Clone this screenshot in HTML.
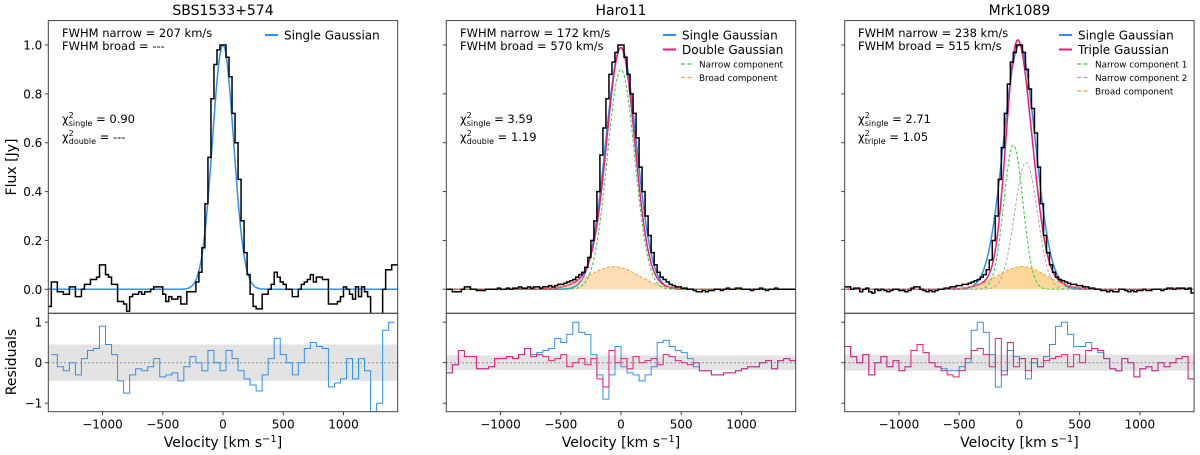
<!DOCTYPE html>
<html><head><meta charset="utf-8">
<style>
html,body{margin:0;padding:0;background:#fff;}
svg{display:block;font-family:"DejaVu Sans","Liberation Sans",sans-serif;}
</style></head>
<body>
<svg id="chart" width="1200" height="455" viewBox="0 0 1200 455" xmlns="http://www.w3.org/2000/svg"></svg>
<script>
// ---------- data ----------
// flux spectra: 25 km/s channels starting at -1450 km/s
const fluxBinStart = -1450;
const fluxBinWidth = 25;
// residuals: 50 km/s bins
const resBinStart = -1450;
const resBinStartSBS = -1425;
const resBinWidth = 50;
const xTicks = [-1000, -500, 0, 500, 1000];
const xTickLabels = ["\u22121000", "\u2212500", "0", "500", "1000"];
const fluxTicks = [0, 0.2, 0.4, 0.6, 0.8, 1.0];
const fluxTickLabels = ["0.0", "0.2", "0.4", "0.6", "0.8", "1.0"];
const resTicks = [-1, 0, 1];
const resTickLabels = ["\u22121", "0", "1"];
const panelTitles = ["SBS1533+574", "Haro11", "Mrk1089"];

const fluxSBS = [
 -0.07,0.03,0.03,-0.01, -0.01,-0.02,-0.02,0.01, 0.01,-0.03,-0.03,0.0, 0.02,0.02,0.04,0.04,
 0.05,0.10,0.10,0.06, 0.05,0.02,0.02,-0.05, -0.05,-0.06,-0.09,-0.03, -0.02,-0.02,-0.01,-0.02,
 -0.01,-0.01,0.0,0.01, 0.01,0.01,-0.02,-0.05, -0.03,-0.04,-0.04,-0.03, -0.06,-0.06,-0.01,-0.01,
 -0.01,0.03,0.07,0.17, 0.35,0.54,0.78,0.92, 0.98,1.0,1.0,0.95, 0.87,0.72,0.6,0.45,
 0.28,0.15,0.06,-0.02, -0.07,-0.08,-0.08,-0.02, -0.02,0.0,0.02,0.07, 0.05,0.03,0.02,0.0,
 0.0,-0.03,-0.03,0.0, 0.02,0.03,0.04,0.06, 0.03,0.05,0.05,0.04, 0.04,-0.06,-0.06,-0.06,
 -0.05,-0.03,0.01,0.0, -0.02,-0.04,0.01,-0.03, 0.01,-0.01,-0.03,-0.12, -0.12,-0.10,-0.10,0.0,
 0.08,0.08,0.10,0.10];
const fluxHaro = [
 0.0,0.0,-0.01,-0.01, -0.01,0.0,0.01,0.01, 0.0,0.0,-0.005,-0.005, -0.005,0.0,0.0,0.0,
 0.0,0.005,0.0,0.0, 0.005,0.0,0.005,0.005, 0.01,0.005,0.005,0.01, 0.005,0.01,0.01,0.005,
 0.01,0.01,0.015,0.01, 0.015,0.02,0.02,0.025, 0.03,0.035,0.04,0.05, 0.06,0.07,0.09,0.13,
 0.2,0.28,0.4,0.55, 0.66,0.78,0.88,0.93, 0.97,1.0,1.0,0.95, 0.88,0.8,0.72,0.62,
 0.5,0.4,0.3,0.22, 0.15,0.1,0.07,0.05, 0.04,0.03,0.02,0.015, 0.01,0.01,0.005,0.005,
 0.0,0.0,-0.005,-0.01, -0.01,-0.005,-0.01,-0.005, -0.005,0.0,0.0,-0.005, 0.0,0.005,0.0,0.0,
 0.005,0.005,0.0,0.0, 0.0,-0.005,0.0,0.0, 0.005,0.0,-0.005,0.0, 0.0,0.005,0.0,0.0,
 0.0,0.0,0.0,0.0];
const fluxMrk = [
 0.01,0.01,0.0,0.005, 0.005,-0.01,0.0,0.005, -0.01,-0.015,0.0,-0.005, 0.0,-0.005,-0.01,-0.005,
 0.0,0.0,-0.005,-0.005, -0.01,-0.005,0.005,0.01, 0.01,0.0,-0.005,-0.01, -0.005,-0.01,-0.005,0.0,
 0.0,0.005,0.005,0.01, 0.01,0.015,0.015,0.02, 0.02,0.025,0.03,0.035, 0.04,0.05,0.06,0.08,
 0.12,0.2,0.3,0.45, 0.58,0.72,0.84,0.93, 0.97,1.0,1.0,0.97, 0.9,0.82,0.74,0.64,
 0.5,0.35,0.22,0.15, 0.1,0.07,0.05,0.04, 0.035,0.03,0.025,0.02, 0.02,0.015,0.015,0.01,
 0.01,0.005,0.005,0.0, 0.0,-0.005,-0.005,-0.01, -0.005,-0.01,-0.01,0.0, 0.0,-0.005,-0.01,-0.005,
 -0.01,-0.005,-0.005,0.0, -0.005,-0.005,0.0,0.0, 0.0,-0.005,0.0,0.005, 0.005,0.0,0.005,0.005,
 0.005,0.0,0.005,-0.015];

const resSBSsingle = [0.2,-0.1,-0.2,0.0,-0.3,0.1,0.3,0.35,0.9,0.45,0.2,-0.45,-0.75,-0.3,-0.15,-0.2,-0.1,0.1,-0.35,-0.3,-0.25,-0.45,-0.1,0.15,0.0,-0.2,0.3,0.0,-0.2,0.3,0.1,-0.2,-0.4,-0.55,-0.7,-0.3,0.1,0.6,0.2,0.0,-0.3,0.0,0.35,0.5,0.4,0.35,-0.6,-0.5,-0.4,0.1,-0.4,0.1,-0.2,-1.3,-1.0,0.8,1.0];
const resHaroSingle = [-0.25,-0.05,0.3,0.15,0.15,-0.15,-0.15,-0.1,0.1,0.1,0.15,0.1,0.2,0.35,0.2,0.25,0.3,0.35,0.6,0.5,0.7,1.0,0.75,0.7,0.2,-0.3,-0.9,-0.3,0.4,-0.1,-0.25,-0.3,-0.45,-0.3,-0.1,0.5,0.55,0.4,0.3,0.25,0.1,-0.1,-0.2,-0.2,-0.3,-0.3,-0.25,-0.25,-0.2,-0.15,-0.1,-0.1,0.0,0.05,-0.15,0.05,0.1,0.05];
const resHaroDouble = [-0.25,-0.05,0.3,0.15,0.15,-0.15,-0.15,-0.1,0.1,0.1,0.15,0.1,0.2,0.35,0.15,0.2,0.15,0.05,0.1,0.2,-0.1,0.0,0.1,-0.05,0.1,-0.4,-0.6,0.3,0.0,0.1,-0.15,0.15,0.0,0.05,0.1,-0.05,0.2,0.15,0.05,0.0,-0.05,0.0,-0.2,-0.2,-0.3,-0.3,-0.25,-0.25,-0.2,-0.15,-0.1,-0.1,0.0,0.05,-0.15,0.05,0.1,0.05];
const resMrkSingle = [0.4,0.15,0.0,0.2,-0.3,0.0,0.15,-0.1,0.05,-0.2,-0.1,0.3,0.45,0.25,0.0,-0.1,-0.15,-0.2,-0.2,-0.1,0.0,0.8,1.0,0.75,0.2,-0.6,-0.2,0.3,0.15,0.1,-0.4,0.0,-0.1,0.15,0.45,0.9,1.0,0.7,0.4,0.4,0.5,0.35,0.25,0.1,-0.15,-0.2,0.1,0.0,-0.35,-0.15,-0.1,-0.2,0.0,-0.1,0.0,0.1,0.15,-0.4];
const resMrkTriple = [0.4,0.15,0.0,0.2,-0.3,0.0,0.15,-0.1,0.05,-0.2,-0.1,0.3,0.45,0.25,0.0,-0.1,-0.2,-0.3,-0.35,-0.2,0.1,0.3,0.35,0.2,-0.1,0.6,-0.3,0.5,-0.1,0.1,-0.2,0.1,-0.1,0.05,0.1,0.15,0.2,-0.1,0.2,0.0,0.3,0.35,0.3,0.1,-0.15,-0.2,0.1,0.0,-0.35,-0.15,-0.1,-0.2,0.0,-0.1,0.0,0.1,0.15,-0.4];

// Gaussian fit parameters [amplitude, center km/s, sigma km/s]
const fitSBSsingle = [1.0, 0, 88];
const fitHaroSingle = [0.99, 0, 128];
const fitHaroNarrow = [0.90, 0, 113];
const fitHaroBroad = [0.093, -60, 205];
const fitMrkSingle = [1.0, 0, 132];
const fitMrkNarrow1 = [0.59, -50, 79];
const fitMrkNarrow2 = [0.52, 55, 94];
const fitMrkBroad = [0.093, 20, 200];
const bandHalfWidth = [0.45, 0.18, 0.2];

// ---------- drawing ----------
const NS = "http://www.w3.org/2000/svg";
const svg = document.getElementById("chart");
const PW = 349.4, PL = [48.3, 446.3, 844.7];
const TOP = 20.6, MID = 313.3, BOT = 411.7;
const XMIN = -1450, XMAX = 1450;
const BLUE = "#2e90f0", PINK = "#ea1a7f", GREEN = "#33cc33", ORANGE = "#ff9a2e", GRAY = "#a8a8a8";
function xS(p, v){ return PL[p] + (v - XMIN) / (XMAX - XMIN) * PW; }
function yF(f){ return 289.3 - f * 244.3; }
function yR(r){ return 362.7 - r * 40.5; }
function mk(tag, attrs, parent){
  const e = document.createElementNS(NS, tag);
  for (const k in attrs) e.setAttribute(k, attrs[k]);
  (parent || svg).appendChild(e);
  return e;
}
function gauss(par, v){ return par[0] * Math.exp(-0.5 * Math.pow((v - par[1]) / par[2], 2)); }
function modelPath(p, pars){
  let d = "";
  for (let v = XMIN; v <= XMAX; v += 5){
    let s = 0; pars.forEach(q => s += gauss(q, v));
    d += (d ? "L" : "M") + xS(p, v).toFixed(2) + "," + yF(s).toFixed(2);
  }
  return d;
}
function stepPath(p, vals, yfn, start, width){
  let d = "";
  vals.forEach((val, i) => {
    const x0 = xS(p, start + i * width), x1 = xS(p, start + (i + 1) * width);
    const y = yfn(val).toFixed(2);
    d += (i === 0 ? "M" : "L") + x0.toFixed(2) + "," + y + "L" + x1.toFixed(2) + "," + y;
  });
  return d;
}
const defs = mk("defs", {});
for (let p = 0; p < 3; p++){
  const c1 = mk("clipPath", {id: "ct" + p}, defs);
  mk("rect", {x: PL[p], y: TOP, width: PW, height: MID - TOP}, c1);
  const c2 = mk("clipPath", {id: "cb" + p}, defs);
  mk("rect", {x: PL[p], y: MID, width: PW, height: BOT - MID}, c2);
}
function txt(x, y, s, opts, parent){
  const t = mk("text", Object.assign({x: x, y: y, "font-size": 12, fill: "#000"}, opts || {}), parent);
  t.textContent = s;
  return t;
}

const fluxes = [fluxSBS, fluxHaro, fluxMrk];
for (let p = 0; p < 3; p++){
  const g = mk("g", {});
  
  
  const gt = mk("g", {"clip-path": "url(#ct" + p + ")"}, g);
  
  
  const gb = mk("g", {"clip-path": "url(#cb" + p + ")"}, g);
  
  

  const band = mk("rect", {x: PL[p], y: yR(bandHalfWidth[p]), width: PW, height: yR(-bandHalfWidth[p]) - yR(bandHalfWidth[p]), fill: "#e3e3e3"}, gb);
  
  
  const zl = mk("line", {x1: PL[p], x2: PL[p] + PW, y1: yR(0), y2: yR(0), stroke: "#777", "stroke-width": 1, "stroke-dasharray": "1.5,2.5"}, gb);
  
  

  if (p === 0){
    const m = mk("path", {d: modelPath(0, [fitSBSsingle]), fill: "none", stroke: BLUE, "stroke-width": 1.5}, gt);
    
    
    const r = mk("path", {d: stepPath(0, resSBSsingle, yR, resBinStartSBS, resBinWidth), fill: "none", stroke: BLUE, "stroke-width": 1}, gb);
    
    
  } else {
    const broad = p === 1 ? fitHaroBroad : fitMrkBroad;
    const narrows = p === 1 ? [fitHaroNarrow] : [fitMrkNarrow1, fitMrkNarrow2];
    const single = p === 1 ? fitHaroSingle : fitMrkSingle;
    const fillD = modelPath(p, [broad]) + "L" + xS(p, XMAX) + "," + yF(0) + "L" + xS(p, XMIN) + "," + yF(0) + "Z";
    const bf = mk("path", {d: fillD, fill: p === 1 ? "#fddcb6" : "#fcd79c", stroke: "none"}, gt);
    
    
    const s = mk("path", {d: modelPath(p, [single]), fill: "none", stroke: BLUE, "stroke-width": 1.5}, gt);
    
    
    const tot = mk("path", {d: modelPath(p, narrows.concat([broad])), fill: "none", stroke: PINK, "stroke-width": 1.5}, gt);
    
    
    const bl = mk("path", {d: modelPath(p, [broad]), fill: "none", stroke: ORANGE, "stroke-width": 1, "stroke-dasharray": "3,2"}, gt);
    
    
    narrows.forEach((n, k) => {
      const nl = mk("path", {d: modelPath(p, [n]), fill: "none", stroke: k === 0 ? GREEN : GRAY, "stroke-width": 1, "stroke-dasharray": "3,2"}, gt);
      
      
    });
    const rs = mk("path", {d: stepPath(p, p === 1 ? resHaroSingle : resMrkSingle, yR, resBinStart, resBinWidth), fill: "none", stroke: BLUE, "stroke-width": 1}, gb);
    
    
    const rm = mk("path", {d: stepPath(p, p === 1 ? resHaroDouble : resMrkTriple, yR, resBinStart, resBinWidth), fill: "none", stroke: PINK, "stroke-width": 1}, gb);
    
    
  }
  const dp = mk("path", {d: stepPath(p, fluxes[p], yF, fluxBinStart, fluxBinWidth), fill: "none", stroke: "#000", "stroke-width": 1.5}, gt);
  
  

  const f1 = mk("rect", {x: PL[p], y: TOP, width: PW, height: MID - TOP, fill: "none", stroke: "#444", "stroke-width": 1}, g);
  
  
  const f2 = mk("rect", {x: PL[p], y: MID, width: PW, height: BOT - MID, fill: "none", stroke: "#444", "stroke-width": 1}, g);
  
  

  fluxTicks.forEach((t, i) => {
    mk("line", {x1: PL[p] - 3.5, x2: PL[p], y1: yF(t), y2: yF(t), stroke: "#444"}, g);
    if (p === 0){
      const l = txt(PL[p] - 6, yF(t) + 4.5, fluxTickLabels[i], {"text-anchor": "end"}, g);
      
      
    }
  });
  resTicks.forEach((t, i) => {
    mk("line", {x1: PL[p] - 3.5, x2: PL[p], y1: yR(t), y2: yR(t), stroke: "#444"}, g);
    if (p === 0){
      const l = txt(PL[p] - 6, yR(t) + 4.5, resTickLabels[i], {"text-anchor": "end"}, g);
      
      
    }
  });
  xTicks.forEach((t, i) => {
    mk("line", {x1: xS(p, t), x2: xS(p, t), y1: BOT, y2: BOT + 3.5, stroke: "#444"}, g);
    const l = txt(xS(p, t), BOT + 17, xTickLabels[i], {"text-anchor": "middle"}, g);
    
    
  });
  const xl = txt(PL[p] + PW / 2, 447, "", {"text-anchor": "middle", "font-size": 14}, g);
  xl.innerHTML = 'Velocity [km s<tspan dy="-5" font-size="10">\u22121</tspan><tspan dy="5">]</tspan>';
  
  
  const ti = txt(PL[p] + PW / 2, 15, panelTitles[p], {"text-anchor": "middle", "font-size": 14}, g);
  
  
}

const yt1 = txt(0, 0, "Flux [Jy]", {"font-size": 14, "text-anchor": "middle", transform: "translate(16,167) rotate(-90)"});


const yt2 = txt(0, 0, "Residuals", {"font-size": 14, "text-anchor": "middle", transform: "translate(16,362) rotate(-90)"});



// ---------- annotations & legends ----------
const ann = [
  {x: 62, l1: "FWHM narrow = 207 km/s", l2: "FWHM broad = ---", c1: "0.90", c2: "---", sub2: "double"},
  {x: 460, l1: "FWHM narrow = 172 km/s", l2: "FWHM broad = 570 km/s", c1: "3.59", c2: "1.19", sub2: "double"},
  {x: 858, l1: "FWHM narrow = 238 km/s", l2: "FWHM broad = 515 km/s", c1: "2.71", c2: "1.05", sub2: "triple"}
];
ann.forEach((a, p) => {
  const g = mk("g", {"font-size": 11.5});
  
  
  txt(a.x, 37, a.l1, {"font-size": 11.5}, g);
  txt(a.x, 50, a.l2, {"font-size": 11.5}, g);
  const c1 = txt(a.x, 123, "", {"font-size": 11.5}, g);
  c1.innerHTML = '\u03c7<tspan dy="-5" font-size="8">2</tspan><tspan dx="-5" dy="8" font-size="8">single</tspan><tspan dy="-3"> = ' + a.c1 + '</tspan>';
  const c2 = txt(a.x, 141, "", {"font-size": 11.5}, g);
  c2.innerHTML = '\u03c7<tspan dy="-5" font-size="8">2</tspan><tspan dx="-5" dy="8" font-size="8">' + a.sub2 + '</tspan><tspan dy="-3"> = ' + a.c2 + '</tspan>';
});
const legends = [
  {lx: 265, rows: [["Single Gaussian", BLUE, 0]]},
  {lx: 663, rows: [["Single Gaussian", BLUE, 0], ["Double Gaussian", PINK, 0], ["Narrow component", GREEN, 1], ["Broad component", ORANGE, 1]]},
  {lx: 1059, rows: [["Single Gaussian", BLUE, 0], ["Triple Gaussian", PINK, 0], ["Narrow component 1", GREEN, 1], ["Narrow component 2", GRAY, 1], ["Broad component", ORANGE, 1]]}
];
legends.forEach(L => {
  const g = mk("g", {});
  
  
  let y = 35;
  L.rows.forEach(r => {
    const e = mk("g", {}, g);
    
    
    if (r[2] === 0){
      mk("line", {x1: L.lx, x2: L.lx + 13, y1: y, y2: y, stroke: r[1], "stroke-width": 2}, e);
      txt(L.lx + 19, y + 4.5, r[0], {"font-size": 12}, e);
      y += 14.5;
    } else {
      if (y < 63) y = 64.5;
      mk("line", {x1: L.lx + 18, x2: L.lx + 31, y1: y, y2: y, stroke: r[1], "stroke-width": 1.2, "stroke-dasharray": "4,2.5"}, e);
      txt(L.lx + 36, y + 3.5, r[0], {"font-size": 8.8}, e);
      y += 13.5;
    }
  });
});
</script>
</body></html>
